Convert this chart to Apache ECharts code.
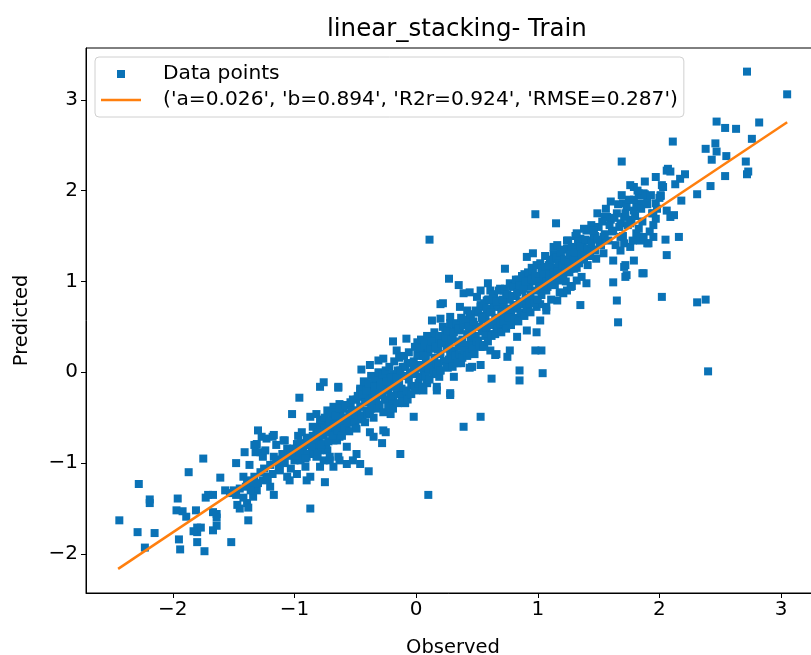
<!DOCTYPE html>
<html><head><meta charset="utf-8">
<script src="https://cdn.jsdelivr.net/npm/echarts@6/dist/echarts.min.js"></script>
<style>html,body{margin:0;padding:0;background:#fff;overflow:hidden}#c{width:811px;height:655px}</style>
</head><body><div id="c"></div>
<script>
const titleText = 'linear_stacking- Train';
const xTicks = [-2, -1, 0, 1, 2, 3];
const yTicks = [-2, -1, 0, 1, 2, 3];
const legendLabels = ['Data points', "('a=0.026', 'b=0.894', 'R2r=0.924', 'RMSE=0.287')"];
const fitObserved = [-2.45, 3.05];
const fitPredicted = [-2.164, 2.753];

// [observed, predicted] pairs
const lowPoints = [
[-2.44,-1.63],[-2.28,-1.23],[-2.19,-1.44],[-2.19,-1.40],[-2.29,-1.76],[-2.15,-1.77],[-2.23,-1.93],[-1.87,-1.10],[-1.75,-0.95],[-1.96,-1.39],
[-1.97,-1.52],[-1.92,-1.53],[-1.89,-1.59],[-1.95,-1.84],[-1.94,-1.95],[-1.80,-1.87],[-1.74,-1.97],[-1.80,-1.71],[-1.80,-1.76],[-1.77,-1.71],
[-1.83,-1.75],[-1.81,-1.52],[-1.73,-1.38],[-1.71,-1.35],[-1.67,-1.35],[-1.64,-1.56],[-1.64,-1.60],[-1.67,-1.54],[-1.61,-1.16],[-1.64,-1.69],
[-1.67,-1.74],[-1.52,-1.87],[-1.57,-1.30],[-1.53,-1.33],[-1.50,-1.30],[-1.48,-1.00],[-1.41,-0.88],[-1.47,-1.46],[-1.45,-1.50],[-1.39,-1.44],
[-1.38,-1.49],[-1.38,-1.63],[-1.42,-1.15],[-1.39,-1.19],[-1.35,-1.23],[-1.37,-1.02],[-1.33,-0.80],[-1.32,-0.88],[-1.28,-0.88],[-1.30,-0.64],
[-1.26,-0.93],[-1.27,-0.71],[-1.23,-0.73],[-1.31,-1.30],[-1.34,-1.37],[-1.26,-1.19],[-1.23,-1.15],[-1.20,-1.26],[-1.17,-1.35],[-1.18,-0.71],
[-1.15,-0.80],[-1.17,-0.93],[-1.08,-0.75],[-1.06,-0.84],[-1.10,-0.97],[-1.12,-1.08],[-1.06,-1.15],[-1.04,-1.19],[-0.98,-1.12],[-1.00,-0.97],
[-1.02,-0.46],[-0.96,-0.28],[-0.98,-0.79],[-0.93,-0.82],[-0.95,-0.97],[-0.90,-0.93],[-0.91,-1.04],[-0.90,-1.19],[-0.87,-1.15],[-0.87,-1.50],
[-0.87,-0.49],[-0.82,-0.46],[-0.79,-0.60],[-0.82,-0.82],[-0.76,-0.79],[-0.73,-0.86],[-0.76,-0.97],[-0.79,-1.04],[-0.71,-0.97],[-0.68,-1.04],
[-0.71,-0.64],[-0.68,-0.46],[-0.65,-0.75],[-0.64,-0.93],[-0.79,-0.16],[-0.64,-0.16],[-0.75,-1.21],[-1.17,-0.69],[-1.09,-0.75],[-1.31,-0.79],
[-1.24,-0.86],[-0.76,-0.11],
[-1.48,-1.35],[-1.45,-1.28],[-1.42,-1.38],[-1.40,-1.26],[-1.36,-1.30],[-1.33,-1.15],[-1.30,-1.22],[-1.28,-1.10],[-1.25,-1.06],[-1.22,-1.18],
[-1.20,-1.02],[-1.18,-1.12],[-1.15,-0.96],[-1.13,-1.04],[-1.10,-0.90],[-1.08,-1.00],[-1.05,-0.92],[-1.03,-1.06],[-1.01,-0.84]
];
const midPoints = [
[0.27,1.03],[0.35,0.96],[0.39,0.87],[0.44,0.88],[0.53,0.90],[0.59,0.98],[0.61,0.90],[0.66,0.79],[0.22,0.76],[0.13,0.57],
[0.20,0.59],[0.28,0.61],[0.36,0.72],[0.42,0.68],[-0.19,0.34],[-0.08,0.37],[0.01,0.33],[0.06,0.24],[0.13,0.39],[0.17,0.32],
[-0.45,0.03],[-0.38,0.08],[-0.31,0.13],[-0.27,0.15],[-0.16,0.24],[-0.64,-0.17],[-0.73,-0.42],[-0.68,-0.38],[-0.63,-0.35],[-0.54,-0.33],
[-0.46,-0.20],[-0.43,-0.27],[-0.38,-0.23],[-0.32,-0.16],[-0.27,-0.20],[-0.21,-0.27],[-0.09,-0.34],[-0.02,-0.49],[-0.13,-0.90],[-0.25,-0.66],
[-0.28,-0.78],[-0.38,-0.66],[-0.39,-1.09],[-0.49,-0.90],[-0.52,-0.97],[-0.46,-1.01],[-0.57,-1.01],[-0.63,-0.97],[-0.71,-0.93],[-0.68,-0.75],
[-0.63,-0.71],[-0.57,-0.82],[-0.79,-0.86],[-0.82,-0.93],[-0.87,-0.90],[0.28,-0.25],[0.39,-0.60],[0.53,-0.49],[0.62,-0.07],[0.65,0.19],
[0.46,0.06],[0.53,0.08],[0.31,-0.05],[0.17,-0.16],[0.06,-0.20],[-0.19,-0.31],[-0.21,-0.46],[-0.27,-0.64],[-0.35,-0.71],[0.10,-1.35],
[0.11,1.46],[0.98,1.74],[1.15,1.64],[0.73,1.14],[0.72,0.90],[0.86,0.98],[0.91,1.27],[0.96,1.31],[0.50,0.83],[0.58,0.79],
[0.64,0.75],[0.69,0.72],[0.20,0.75],[0.09,0.35],[0.47,0.32],[0.53,0.28],[0.61,0.24],[0.66,0.20],[0.75,0.17],[0.77,0.24],
[0.83,0.39],[0.91,0.46],[0.31,0.10],[0.20,0.02],[0.09,-0.12],[0.17,-0.20],[0.85,0.02],[0.85,-0.09],[0.44,0.05],[0.28,-0.23],
[1.04,-0.01],[1.03,0.24],[0.98,0.24],[0.99,0.44],[1.02,0.57],[1.07,0.68],[1.16,0.79],[1.24,0.90],[1.32,1.01],[1.40,0.98],
[1.35,0.74],[1.18,1.01],[1.27,0.94],[1.02,0.75],[1.07,0.72],[1.21,0.87],[1.13,1.38],[1.24,1.45],[1.32,1.53]
];
const highPoints = [
[1.69,2.32],[2.06,2.22],[1.76,2.06],[1.79,2.04],[1.83,1.97],[1.87,1.97],[1.90,1.93],[2.02,2.06],[2.01,1.95],[1.97,1.86],
[1.95,1.75],[2.06,1.78],[2.09,1.71],[1.70,1.86],[1.73,1.82],[1.79,1.78],[1.81,1.82],[1.49,1.75],[1.57,1.71],[1.65,1.75],
[1.68,1.64],[1.62,1.56],[1.54,1.49],[1.46,1.53],[1.40,1.56],[1.35,1.47],[1.68,1.49],[1.71,1.42],[1.68,1.34],[1.76,1.38],
[1.84,1.45],[1.90,1.42],[1.95,1.49],[2.06,1.29],[1.62,1.23],[1.71,1.16],[1.73,1.07],[1.87,1.09],[1.62,0.99],[1.65,0.79],
[1.66,0.55],[2.02,0.83],[2.72,3.31],[3.05,3.06],[2.47,2.76],[2.54,2.69],[2.63,2.68],[2.82,2.75],[2.76,2.57],[2.11,2.54],
[2.38,2.46],[2.46,2.52],[2.47,2.43],[2.43,2.34],[2.55,2.38],[2.71,2.32],[2.73,2.21],[2.72,2.18],[2.54,2.16],[2.07,2.24],
[2.09,2.21],[2.21,2.18],[2.17,2.13],[2.13,2.07],[2.03,2.04],[2.42,2.05],[2.31,1.96],[1.84,1.95],[1.88,1.96],[2.01,1.94],
[2.18,1.89],[2.12,1.73],[2.16,1.49],[2.05,1.46],[2.31,0.77],[2.38,0.80],[2.40,0.01],[1.86,1.09],[1.79,1.23],[1.72,1.05],
[1.72,1.18],[1.91,1.42],[1.87,1.49],[1.81,1.53],[1.76,1.64],[1.71,1.71],[1.60,1.68],[1.55,1.71],[1.54,1.31],[1.51,1.42],
[1.97,1.69],[1.94,1.75],[1.84,1.86],[1.79,1.90]
];
const bandPoints = [
[-0.98,-0.85],[-0.95,-0.78],[-0.93,-0.90],[-0.90,-0.72],[-0.88,-0.80],[-0.85,-0.70],[-0.84,-0.88],[-0.82,-0.62],[-0.80,-0.75],[-0.78,-0.68],
[-0.77,-0.55],[-0.75,-0.62],[-0.74,-0.80],[-0.72,-0.58],[-0.70,-0.66],[-0.69,-0.50],[-0.67,-0.60],[-0.66,-0.72],[-0.64,-0.55],[-0.62,-0.48],
[-0.61,-0.63],[-0.60,-0.40],[-0.58,-0.52],[-0.57,-0.60],[-0.55,-0.45],[-0.54,-0.36],[-0.52,-0.50],[-0.51,-0.42],[-0.50,-0.58],
[-0.49,-0.30],[-0.48,-0.45],[-0.46,-0.38],[-0.45,-0.25],[-0.44,-0.50],[-0.42,-0.33],[-0.41,-0.42],[-0.40,-0.18],[-0.39,-0.30],[-0.37,-0.40],
[-0.36,-0.22],[-0.35,-0.32],[-0.34,-0.12],[-0.33,-0.28],[-0.31,-0.36],[-0.30,-0.20],[-0.29,-0.08],[-0.28,-0.25],[-0.26,-0.14],[-0.25,-0.30],
[-0.24,-0.05],[-0.23,-0.20],[-0.21,-0.12],[-0.20,-0.35],[-0.19,-0.02],[-0.18,-0.15],[-0.16,-0.24],[-0.15,0.02],[-0.14,-0.10],[-0.12,-0.18],
[-0.11,0.06],[-0.10,-0.04],[-0.09,-0.28],[-0.07,0.10],[-0.06,-0.08],[-0.05,0.00],[-0.04,-0.15],[-0.02,0.12],[-0.01,-0.02],[0.00,0.05],[0.00,-0.20],
[0.02,0.18],[0.03,-0.05],[0.04,0.08],[0.05,0.25],[0.06,0.02],[0.08,0.14],[0.09,-0.10],[0.10,0.22],[0.11,0.08],[0.12,0.30],
[0.13,0.02],[0.15,0.16],[0.16,0.40],[0.17,0.10],[0.18,0.25],[0.19,-0.05],[0.20,0.20],[0.22,0.34],[0.23,0.12],[0.24,0.45],
[0.25,0.26],[0.26,0.05],[0.27,0.30],[0.28,0.18],[0.30,0.40],[0.31,0.24],[0.32,0.52],[0.33,0.15],[0.34,0.34],[0.35,0.28],
[0.36,0.46],[0.37,0.10],[0.38,0.36],[0.40,0.55],[0.41,0.30],[0.42,0.42],[0.43,0.20],[0.44,0.60],[0.45,0.38],[0.46,0.48],
[0.47,0.25],[0.48,0.52],[0.49,0.40],[0.50,0.66],
[0.51,0.35],[0.52,0.50],[0.53,0.72],[0.54,0.45],[0.55,0.58],[0.56,0.30],[0.57,0.62],[0.58,0.48],[0.59,0.80],[0.60,0.55],
[0.61,0.42],[0.62,0.68],[0.63,0.52],[0.64,0.86],[0.65,0.60],[0.66,0.45],[0.67,0.72],[0.68,0.58],[0.69,0.92],[0.70,0.66],
[0.71,0.50],[0.72,0.76],[0.73,0.62],[0.74,0.85],[0.75,0.70],[0.76,0.55],[0.77,0.80],[0.78,0.66],[0.79,0.95],[0.80,0.74],
[0.81,0.60],[0.82,0.84],[0.83,0.70],[0.84,1.02],[0.85,0.78],[0.86,0.64],[0.87,0.90],[0.88,0.75],[0.89,1.08],[0.90,0.82],
[0.92,0.70],[0.93,0.95],[0.94,0.86],[0.95,1.15],[0.96,0.80],[0.97,1.00],[0.98,0.90],[0.99,0.72],[1.00,1.05],
[1.01,0.92],[1.02,1.20],[1.03,0.85],[1.04,1.08],[1.05,0.98],[1.06,1.28],[1.07,0.90],[1.08,1.12],[1.09,1.02],[1.10,1.22],
[1.11,0.80],[1.12,1.05],[1.13,1.30],[1.14,0.96],[1.15,1.15],[1.16,1.40],[1.17,1.08],[1.18,0.88],[1.19,1.25],[1.20,1.12],
[1.22,1.35],[1.23,1.00],[1.24,1.20],[1.25,1.45],[1.26,1.10],[1.27,1.30],[1.28,0.95],[1.30,1.22],[1.31,1.50],[1.32,1.15],
[1.33,1.36],[1.35,1.25],[1.36,1.05],[1.37,1.42],[1.38,1.58],[1.40,1.30],[1.41,1.18],[1.42,1.45],[1.44,1.62],[1.45,1.35],
[1.47,1.50],[1.48,1.25],
[1.50,1.60],[1.52,1.40],[1.53,1.66],[1.55,1.52],[1.56,1.80],[1.58,1.45],[1.59,1.62],[1.60,1.88],[1.61,1.55],[1.63,1.70],
[1.64,1.40],[1.66,1.85],[1.67,1.60],[1.69,1.95],[1.70,1.50],[1.72,1.75],[1.74,1.62],[1.75,1.90],[1.77,1.68],[1.78,1.45],
[1.80,1.72],[1.82,2.00],[1.83,1.58],[1.85,1.80],[1.86,1.66],[1.88,2.10],[1.90,1.85],[1.92,1.55],[1.93,1.95],[1.95,1.62],
[1.97,2.15],[1.98,1.80],[2.00,1.92]
];
const corePoints = [
[-0.99,-0.92],[-0.97,-0.70],[-0.96,-0.88],[-0.94,-0.66],[-0.92,-0.80],[-0.91,-0.95],[-0.89,-0.75],[-0.86,-0.82],[-0.85,-0.60],[-0.83,-0.74],
[-0.81,-0.90],[-0.80,-0.66],[-0.79,-0.52],[-0.78,-0.80],[-0.76,-0.70],[-0.75,-0.50],[-0.73,-0.66],[-0.72,-0.76],[-0.71,-0.54],[-0.70,-0.44],
[-0.69,-0.70],[-0.68,-0.58],[-0.66,-0.48],[-0.65,-0.64],[-0.63,-0.40],[-0.62,-0.56],[-0.61,-0.70],[-0.60,-0.50],[-0.59,-0.62],[-0.58,-0.36],
[-0.56,-0.55],[-0.55,-0.65],[-0.53,-0.42],[-0.52,-0.30],[-0.51,-0.55],[-0.50,-0.46],
[-0.49,-0.62],[-0.48,-0.26],[-0.47,-0.52],[-0.46,-0.18],[-0.45,-0.48],[-0.44,-0.24],[-0.43,-0.10],[-0.42,-0.55],[-0.41,-0.20],[-0.40,-0.46],
[-0.39,-0.12],[-0.38,-0.44],[-0.37,-0.04],[-0.36,-0.36],[-0.35,-0.50],[-0.34,-0.16],[-0.33,-0.06],[-0.32,-0.40],[-0.31,0.00],[-0.30,-0.36],
[-0.29,-0.14],[-0.28,-0.02],[-0.27,-0.44],[-0.26,-0.30],[-0.25,0.02],[-0.24,-0.10],[-0.23,-0.38],[-0.22,0.06],[-0.21,-0.26],[-0.20,-0.06],
[-0.19,-0.40],[-0.18,0.12],[-0.17,-0.16],[-0.16,-0.06],[-0.15,-0.34],[-0.14,0.16],[-0.13,0.02],[-0.12,-0.26],[-0.11,-0.32],[-0.10,0.18],
[-0.09,0.06],[-0.08,-0.20],[-0.07,-0.30],[-0.06,0.22],[-0.05,0.10],[-0.04,-0.24],[-0.03,-0.02],[-0.02,0.08],[-0.01,0.28],[-0.01,-0.16],
[0.01,0.20],[0.02,-0.12],[0.03,0.26],[0.04,0.36],[0.05,-0.16],[0.06,0.18],[0.07,0.30],[0.08,-0.04],[0.09,0.40],[0.10,0.04],
[0.11,-0.08],[0.12,0.26],[0.13,0.34],[0.14,0.00],[0.15,0.44],[0.16,0.28],[0.17,-0.02],[0.18,0.08],[0.19,0.40],[0.20,0.02],
[0.21,0.32],[0.22,0.50],[0.23,0.12],[0.24,0.38],[0.25,0.06],[0.26,0.46],[0.27,0.14],[0.28,0.54],[0.29,0.36],[0.30,0.06],
[0.31,0.44],[0.32,0.18],[0.33,0.54],[0.34,0.10],[0.35,0.48],[0.36,0.20],[0.37,0.60],[0.38,0.16],[0.39,0.52],[0.40,0.24],
[0.41,0.58],[0.42,0.18],[0.43,0.50],[0.44,0.22],[0.45,0.64],[0.46,0.26],[0.47,0.56],[0.48,0.20],[0.49,0.68],[0.50,0.34],
[0.51,0.66],[0.52,0.30],[0.53,0.74],[0.54,0.60],[0.55,0.28],[0.56,0.76],[0.57,0.40],[0.58,0.70],[0.59,0.34],[0.60,0.80],
[0.61,0.66],[0.62,0.40],[0.63,0.84],[0.64,0.52],[0.65,0.42],[0.66,0.78],[0.67,0.48],[0.68,0.90],[0.69,0.54],[0.70,0.44],
[0.71,0.80],[0.72,0.56],[0.73,0.92],[0.74,0.48],[0.75,0.86],[0.76,0.60],[0.77,0.98],[0.78,0.52],[0.79,0.84],[0.80,0.94],
[0.81,0.58],[0.82,1.02],[0.83,0.88],[0.84,0.56],[0.85,0.96],[0.86,0.66],[0.87,1.06],[0.88,0.92],[0.89,0.62],[0.90,1.00],
[0.91,0.70],[0.92,1.10],[0.93,0.76],[0.94,0.66],[0.95,1.02],[0.96,1.12],[0.97,0.76],[0.98,1.06],[0.99,1.18],[1.00,0.80],
[1.01,1.00],[1.02,0.94],[1.03,1.14],[1.04,0.92],[1.05,1.06],[1.06,1.16],[1.07,1.00],[1.08,0.94],[1.09,1.18],[1.10,1.06],
[1.11,0.96],[1.12,1.24],[1.13,1.10],[1.14,1.02],[1.15,1.26],[1.16,1.12],[1.17,1.20],[1.18,1.04],[1.19,1.32],[1.20,1.18],
[1.21,1.06],[1.22,1.24],[1.23,1.14],[1.24,1.36],[1.25,1.22],[1.26,1.30],[1.27,1.14],[1.28,1.38],[1.29,1.24],[1.30,1.14],
[1.31,1.32],[1.33,1.44],[1.34,1.20],[1.35,1.38],[1.36,1.30],[1.38,1.24],[1.39,1.46],[1.41,1.36],[1.43,1.28],[1.44,1.42],
[1.46,1.56],[1.47,1.34],[1.49,1.46]
];

const minus = v => String(v).replace('-', '\u2212');
const font = 'DejaVu Sans';
const chart = echarts.init(document.getElementById('c'), null, {renderer: 'canvas'});
chart.setOption({
  animation: false,
  backgroundColor: '#fff',
  title: {text: titleText, left: 322, top: 12,
    textStyle: {fontFamily: font, fontSize: 24.5, fontWeight: 'normal', color: '#000'}},
  legend: {
    orient: 'vertical', left: 95, top: 57, itemWidth: 40, itemHeight: 8, itemGap: 6,
    padding: [7, 6, 7, 6], symbolKeepAspect: true,
    backgroundColor: 'rgba(255,255,255,0.85)', borderColor: '#d0d0d0', borderWidth: 1, borderRadius: 4,
    textStyle: {fontFamily: font, fontSize: 20.2, color: '#000', padding: [0, 0, 0, 17]},
    data: [
      {name: legendLabels[0], icon: 'path://M0,0h8v8h-8z'},
      {name: legendLabels[1], icon: 'path://M0,0h40v2.5h-40z'}
    ]
  },
  grid: {left: 86, top: 48, width: 734, height: 545, show: true, borderColor: '#000', borderWidth: 1,
    containLabel: false, outerBoundsMode: 'none'},
  xAxis: {
    type: 'value', min: -2.714, max: 3.32,
    name: 'Observed', nameLocation: 'middle', nameGap: 45,
    nameTextStyle: {fontFamily: font, fontSize: 19.5, color: '#000'},
    axisLine: {show: true, onZero: false, lineStyle: {color: '#000', width: 1}},
    axisTick: {show: true, length: 5, lineStyle: {color: '#000'}, customValues: xTicks},
    axisLabel: {fontFamily: font, fontSize: 20, color: '#000', margin: 7, customValues: xTicks, formatter: minus},
    splitLine: {show: false}
  },
  yAxis: {
    type: 'value', min: -2.43, max: 3.57,
    name: 'Predicted', nameLocation: 'middle', nameGap: 54, nameRotate: 90,
    nameTextStyle: {fontFamily: font, fontSize: 19.5, color: '#000'},
    axisLine: {show: true, onZero: false, lineStyle: {color: '#000', width: 1}},
    axisTick: {show: true, length: 5, lineStyle: {color: '#000'}, customValues: yTicks},
    axisLabel: {fontFamily: font, fontSize: 20, color: '#000', margin: 8, customValues: yTicks, formatter: minus},
    splitLine: {show: false}
  },
  series: [
    {name: legendLabels[0], type: 'scatter', symbol: 'rect', symbolSize: 8,
     itemStyle: {color: '#0a72b6', opacity: 1}, z: 2,
     data: lowPoints.concat(midPoints, highPoints, bandPoints, corePoints)},
    {name: legendLabels[1], type: 'line', symbol: 'none', z: 3,
     lineStyle: {color: '#ff7f0e', width: 2.5}, itemStyle: {color: '#ff7f0e'},
     data: fitObserved.map((x, i) => [x, fitPredicted[i]])}
  ]
});
</script></body></html>
